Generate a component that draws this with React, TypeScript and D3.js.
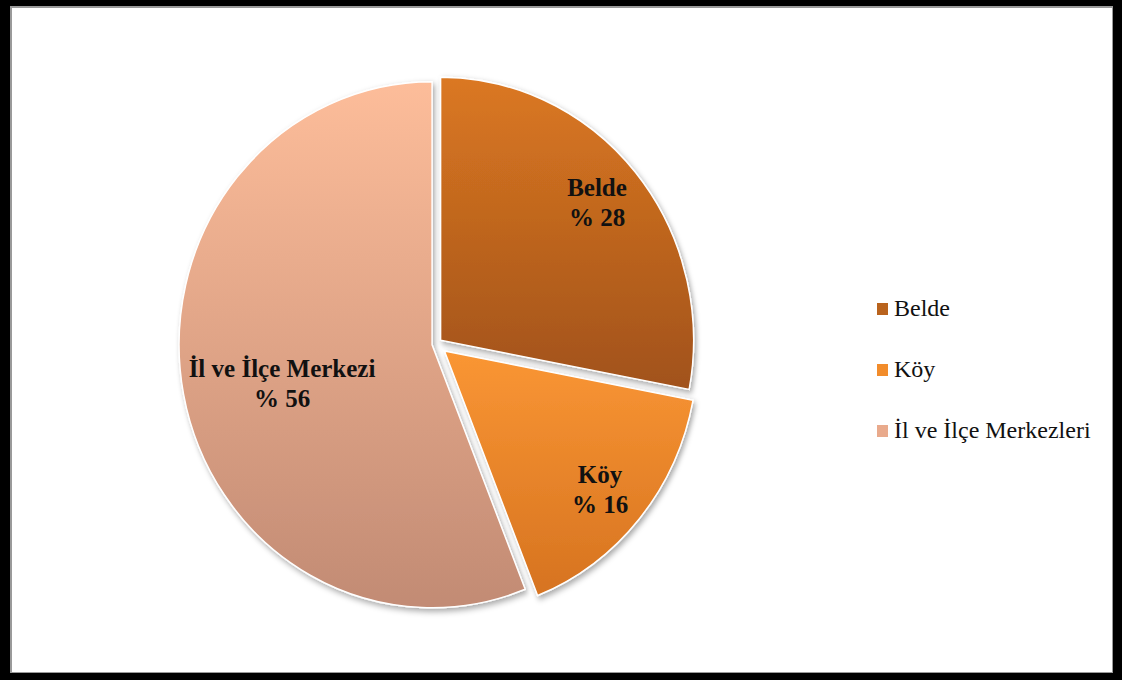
import React from "react";
import * as d3 from "d3";

const categories = ["Belde", "Köy", "İl ve İlçe Merkezleri"];
const sliceLabels = ["Belde", "Köy", "İl ve İlçe Merkezi"];
const values = [28, 16, 56];
const pctLabels = ["% 28", "% 16", "% 56"];
const topColors = ["#DB7822", "#FA9634", "#FDBD9A"];
const bottomColors = ["#A1521A", "#D67320", "#C28B74"];
const legendColors = ["#B9631D", "#F28C2B", "#E9AA8C"];
const explode = [6, 11, 4];

const W = 1122;
const H = 680;
const cx = 436;
const cy = 344;
const R = 263;
const sx = 253 / 263;

const labelPos = [
  { x: 597, y: 196 },
  { x: 600, y: 483 },
  { x: 282, y: 377 },
];

export default function App() {
  const pie = d3.pie<number>().sort(null).startAngle(0).endAngle(2 * Math.PI);
  const arcs = pie(values);
  const arc = d3.arc<d3.PieArcDatum<number>>().innerRadius(0).outerRadius(R);

  return (
    <svg
      width={W}
      height={H}
      style={{ position: "absolute", left: 0, top: 0, display: "block" }}
    >
      <defs>
        {arcs.map((a, i) => (
          <linearGradient key={i} id={`g${i}`} x1="0" y1="0" x2="0" y2="1">
            <stop offset="0%" stopColor={topColors[i]} />
            <stop offset="100%" stopColor={bottomColors[i]} />
          </linearGradient>
        ))}
        <filter id="sh" x="-20%" y="-20%" width="140%" height="140%">
          <feDropShadow dx="2" dy="3" stdDeviation="3" floodColor="#000" floodOpacity="0.35" />
        </filter>
      </defs>
      <rect x={0} y={0} width={W} height={H} fill="#000" />
      <rect x={10} y={6} width={1103} height={667} fill="#9a9a9a" />
      <rect x={12} y={8} width={1100} height={664} fill="#fff" />

      {arcs.map((a, i) => {
        const mid = (a.startAngle + a.endAngle) / 2;
        const ox = cx + Math.sin(mid) * explode[i];
        const oy = cy - Math.cos(mid) * explode[i];
        return (
          <g key={i} transform={`translate(${ox},${oy}) scale(${sx},1)`}>
            <path
              d={arc(a) || ""}
              fill={`url(#g${i})`}
              stroke="#fff"
              strokeWidth={1.5}
              filter="url(#sh)"
            />
          </g>
        );
      })}

      {arcs.map((a, i) => (
        <text
          key={`l${i}`}
          textAnchor="middle"
          fontFamily="'Liberation Serif', 'Times New Roman', serif"
          fontWeight="bold"
          fontSize={25}
          fill="#111"
        >
          <tspan x={labelPos[i].x} y={labelPos[i].y}>{sliceLabels[i]}</tspan>
          <tspan x={labelPos[i].x} y={labelPos[i].y + 30}>{pctLabels[i]}</tspan>
        </text>
      ))}

      {categories.map((c, i) => (
        <g key={`lg${i}`} transform={`translate(877,${303 + i * 61})`}>
          <rect x={0} y={0} width={11} height={12} fill={legendColors[i]} />
          <text
            x={17}
            y={13}
            fontFamily="'Liberation Serif', 'Times New Roman', serif"
            fontSize={24}
            fill="#111"
          >
            {c}
          </text>
        </g>
      ))}
    </svg>
  );
}
